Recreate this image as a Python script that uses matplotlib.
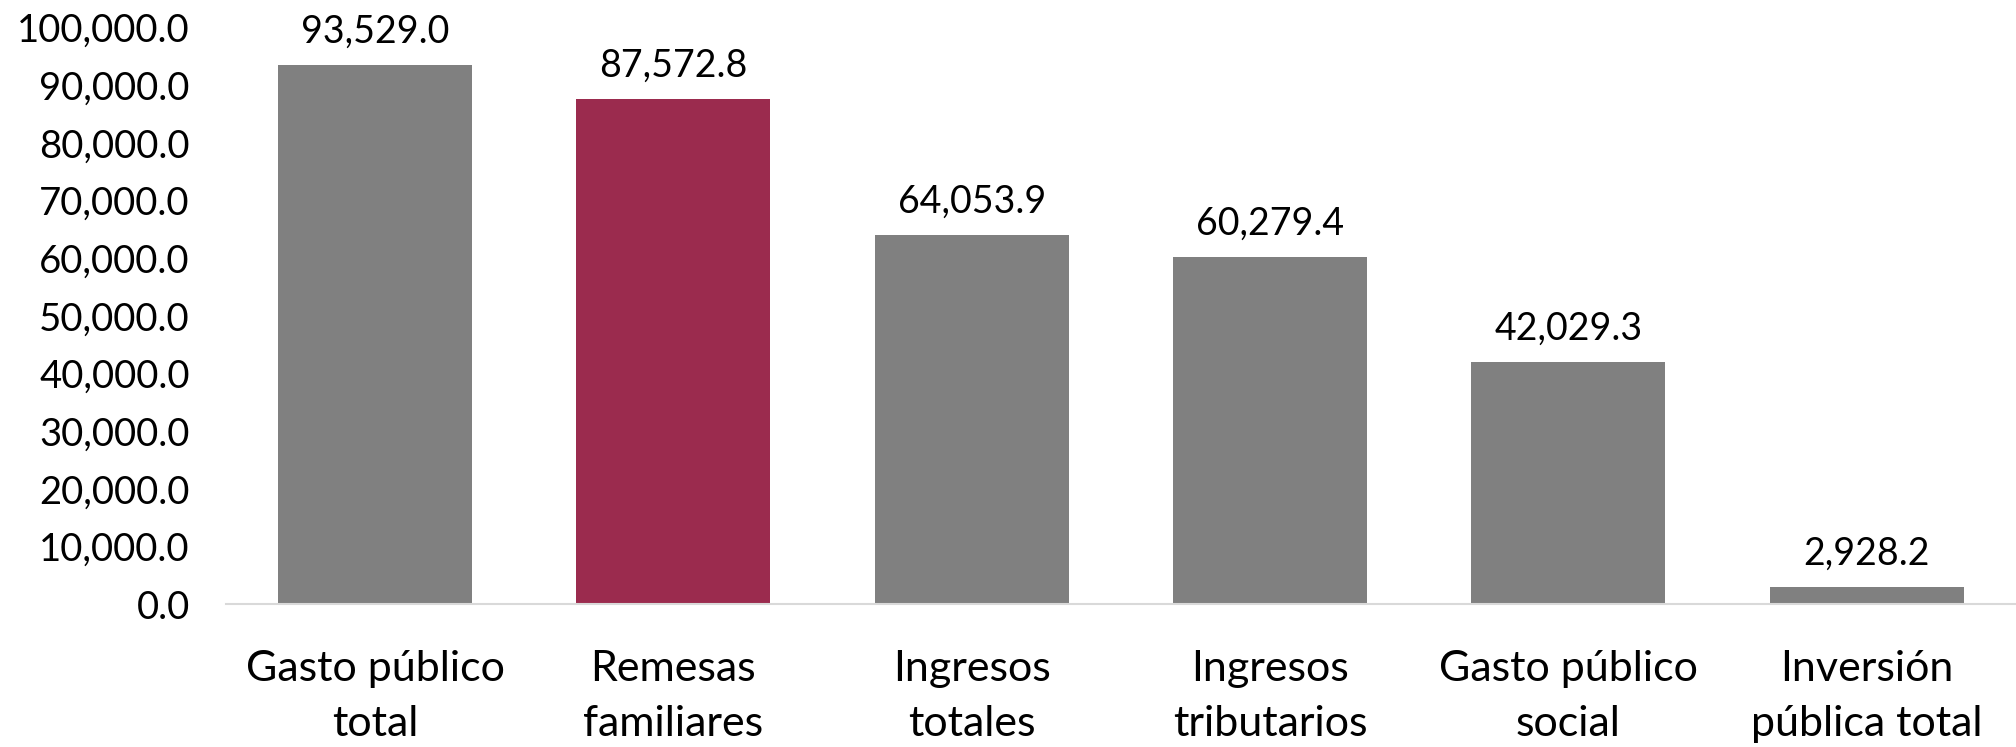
import matplotlib
matplotlib.use("Agg")
import matplotlib.pyplot as plt
from matplotlib.ticker import FuncFormatter

categories = ["Gasto público\ntotal", "Remesas\nfamiliares", "Ingresos\ntotales",
              "Ingresos\ntributarios", "Gasto público\nsocial", "Inversión\npública total"]
values = [93529.0, 87572.8, 64053.9, 60279.4, 42029.3, 2928.2]
colors = ["#808080", "#9b2b4e", "#808080", "#808080", "#808080", "#808080"]

plt.rcParams['font.family'] = ['Lato', 'DejaVu Sans']

fig = plt.figure(figsize=(20.16, 7.47), dpi=100)
ax = fig.add_axes([0.112, 0.191, 0.888, 0.772])

x = range(len(categories))
bars = ax.bar(x, values, width=0.65, color=colors)
for b, v in zip(bars, values):
    ax.annotate(f"{v:,.1f}", (b.get_x() + b.get_width() / 2, v),
                xytext=(0, 11), textcoords="offset points",
                ha="center", va="bottom", fontsize=27)

ax.set_xlim(-0.5, len(categories) - 0.5)
ax.set_ylim(0, 100000)
ax.set_yticks(range(0, 100001, 10000))
ax.yaxis.set_major_formatter(FuncFormatter(lambda v, p: f"{v:,.1f}"))
ax.set_xticks(list(x))
ax.set_xticklabels(categories, fontsize=31, linespacing=1.55)
ax.tick_params(axis="y", labelsize=27.5, length=0, pad=26)
ax.tick_params(axis="x", length=0, pad=33)
for s in ["top", "right", "left"]:
    ax.spines[s].set_visible(False)
ax.spines["bottom"].set_color("#d9d9d9")
ax.spines["bottom"].set_linewidth(1.5)

fig.savefig("out.png", dpi=100)
